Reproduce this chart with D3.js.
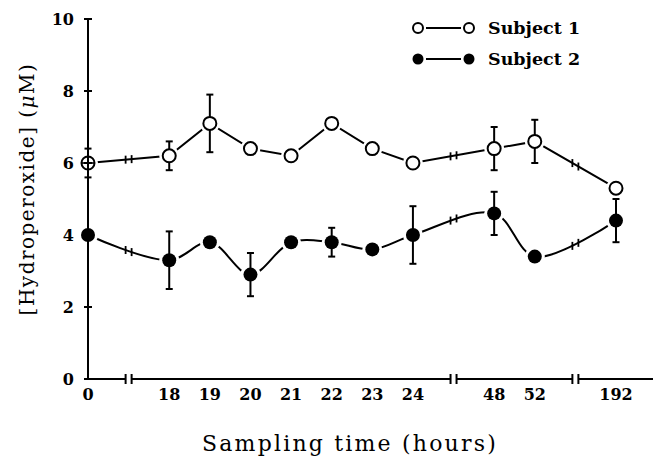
<!DOCTYPE html>
<html>
<head>
<meta charset="utf-8">
<script src="https://cdn.jsdelivr.net/npm/d3@7"></script>
<style>
  html, body { margin: 0; padding: 0; background: #fff; }
  svg { display: block; }
</style>
</head>
<body>
<script>
// ---- data ----
const times = ["0", "18", "19", "20", "21", "22", "23", "24", "48", "52", "192"];
const breakAfter = ["0", "24", "52"];
const subject1 = [6.0, 6.2, 7.1, 6.4, 6.2, 7.1, 6.4, 6.0, 6.4, 6.6, 5.3];
const subject1Err = [0.4, 0.4, 0.8, 0, 0, 0, 0, 0, 0.6, 0.6, 0];
const subject2 = [4.0, 3.3, 3.8, 2.9, 3.8, 3.8, 3.6, 4.0, 4.6, 3.4, 4.4];
const subject2Err = [0, 0.8, 0, 0.6, 0, 0.4, 0, 0.8, 0.6, 0, 0.6];
const yTicks = [0, 2, 4, 6, 8, 10];
const seriesNames = ["Subject 1", "Subject 2"];

// ---- layout ----
const W = 656, H = 472;
const svg = d3.select("body").append("svg").attr("width", W).attr("height", H);

const slots = [];
times.forEach(t => { slots.push(t); if (breakAfter.includes(t)) slots.push("break-" + t); });
const x = d3.scalePoint().domain(slots).range([88, 616]);
const y = d3.scaleLinear().domain([0, 10]).range([379, 19]);
const axisX0 = 88, axisXEnd = 653;
const tickFont = "'DejaVu Serif', serif";

const series = [
  { name: seriesNames[0], values: subject1, errs: subject1Err, open: true, curve: d3.curveLinear },
  { name: seriesNames[1], values: subject2, errs: subject2Err, open: false, curve: d3.curveCatmullRom }
];
series.forEach(s => {
  s.points = times.map((t, i) => ({ t, v: s.values[i], e: s.errs[i], px: x(t), py: y(s.values[i]) }));
});

// ---- lines ----
const gLines = svg.append("g");
series.forEach(s => {
  const line = d3.line().x(d => d.px).y(d => d.py).curve(s.curve);
  const path = gLines.append("path")
    .attr("d", line(s.points))
    .attr("fill", "none").attr("stroke", "#000").attr("stroke-width", 2);
  s.pathNode = path.node();
});

// y on path at a given x (binary search along the path)
function yAtX(node, xt) {
  const L = node.getTotalLength();
  let lo = 0, hi = L;
  for (let k = 0; k < 40; k++) {
    const mid = (lo + hi) / 2;
    const p = node.getPointAtLength(mid);
    if (p.x < xt) lo = mid; else hi = mid;
  }
  return node.getPointAtLength((lo + hi) / 2).y;
}

// break marks on the series lines
breakAfter.forEach(b => {
  const xb = x("break-" + b);
  series.forEach(s => {
    [-3, 3].forEach(off => {
      const yy = yAtX(s.pathNode, xb + off);
      gLines.append("line")
        .attr("x1", xb + off).attr("x2", xb + off)
        .attr("y1", yy - 4).attr("y2", yy + 4)
        .attr("stroke", "#000").attr("stroke-width", 1.8);
    });
  });
});

// ---- halos (gap between line and marker) ----
const gMarks = svg.append("g");
series.forEach(s => {
  gMarks.selectAll(null).data(s.points).enter().append("circle")
    .attr("cx", d => d.px).attr("cy", d => d.py).attr("r", 10).attr("fill", "#fff");
});

// ---- error bars ----
series.forEach(s => {
  s.points.filter(d => d.e > 0).forEach(d => {
    const y1 = y(d.v - d.e), y2 = y(d.v + d.e);
    gMarks.append("line").attr("x1", d.px).attr("x2", d.px).attr("y1", y1).attr("y2", y2)
      .attr("stroke", "#000").attr("stroke-width", 2);
    [y1, y2].forEach(yy => gMarks.append("line")
      .attr("x1", d.px - 3.5).attr("x2", d.px + 3.5).attr("y1", yy).attr("y2", yy)
      .attr("stroke", "#000").attr("stroke-width", 2));
  });
});

// ---- markers ----
series.forEach(s => {
  gMarks.selectAll(null).data(s.points).enter().append("circle")
    .attr("cx", d => d.px).attr("cy", d => d.py)
    .attr("r", s.open ? 6.5 : 7)
    .attr("fill", s.open ? "#fff" : "#000")
    .attr("stroke", s.open ? "#000" : "none")
    .attr("stroke-width", 2);
});
// crossed marker on the y axis (⊕)
series.filter(s => s.open).forEach(s => {
  s.points.filter(d => d.t === times[0]).forEach(d => {
    gMarks.append("line").attr("x1", d.px - 6.5).attr("x2", d.px + 6.5)
      .attr("y1", d.py).attr("y2", d.py).attr("stroke", "#000").attr("stroke-width", 1.6);
  });
});

// ---- y axis ----
const gy = svg.append("g");
gy.append("line").attr("x1", axisX0).attr("x2", axisX0).attr("y1", y(0)).attr("y2", y(10))
  .attr("stroke", "#000").attr("stroke-width", 2);
gy.selectAll(".tk").data(yTicks).enter().append("line")
  .attr("x1", axisX0 - 4).attr("x2", axisX0 + 4)
  .attr("y1", d => y(d)).attr("y2", d => y(d))
  .attr("stroke", "#000").attr("stroke-width", 2);
gy.selectAll(".lb").data(yTicks).enter().append("text")
  .attr("x", axisX0 - 14).attr("y", d => y(d)).attr("dy", "0.36em")
  .attr("text-anchor", "end")
  .attr("font-family", tickFont).attr("font-weight", "bold").attr("font-size", 16)
  .text(d => d);

// ---- x axis with breaks ----
const gx = svg.append("g");
const y0 = y(0);
const bxs = breakAfter.map(b => x("break-" + b));
const segs = [];
let start = axisX0;
bxs.forEach(b => { segs.push([start, b - 3, false, true]); start = b + 3; });
segs.push([start, axisXEnd, true, false]);
segs.forEach((sg, i) => {
  gx.append("line").attr("x1", sg[0]).attr("x2", sg[1]).attr("y1", y0).attr("y2", y0)
    .attr("stroke", "#000").attr("stroke-width", 2);
  if (i > 0) gx.append("line").attr("x1", sg[0]).attr("x2", sg[0]).attr("y1", y0 - 5).attr("y2", y0 + 5)
    .attr("stroke", "#000").attr("stroke-width", 2);
  if (sg[3]) gx.append("line").attr("x1", sg[1]).attr("x2", sg[1]).attr("y1", y0 - 5).attr("y2", y0 + 5)
    .attr("stroke", "#000").attr("stroke-width", 2);
});
gx.selectAll(".lb").data(times).enter().append("text")
  .attr("x", d => x(d)).attr("y", 400)
  .attr("text-anchor", "middle")
  .attr("font-family", tickFont).attr("font-weight", "bold").attr("font-size", 16)
  .text(d => d);

// ---- axis titles ----
svg.append("text")
  .attr("x", 350).attr("y", 451)
  .attr("text-anchor", "middle")
  .attr("font-family", tickFont).attr("font-size", 22)
  .attr("letter-spacing", 2.2)
  .text("Sampling time (hours)");

const yt = svg.append("text")
  .attr("transform", "translate(34,189) rotate(-90)")
  .attr("text-anchor", "middle")
  .attr("font-family", tickFont).attr("font-size", 20)
  .attr("letter-spacing", 1.5);
yt.append("tspan").text("[Hydroperoxide] (");
yt.append("tspan").attr("font-style", "italic").text("μ");
yt.append("tspan").text("M)");

// ---- legend ----
const lg = svg.append("g");
series.forEach((s, i) => {
  const ly = 28 + i * 31;
  lg.append("line").attr("x1", 426).attr("x2", 461).attr("y1", ly).attr("y2", ly)
    .attr("stroke", "#000").attr("stroke-width", 2);
  [418, 469].forEach(cx => lg.append("circle").attr("cx", cx).attr("cy", ly)
    .attr("r", s.open ? 5 : 5.5)
    .attr("fill", s.open ? "#fff" : "#000")
    .attr("stroke", s.open ? "#000" : "none").attr("stroke-width", 2));
  lg.append("text").attr("x", 488).attr("y", ly).attr("dy", "0.36em")
    .attr("font-family", tickFont).attr("font-weight", "bold").attr("font-size", 17.5)
    .text(s.name);
});
</script>
</body>
</html>
